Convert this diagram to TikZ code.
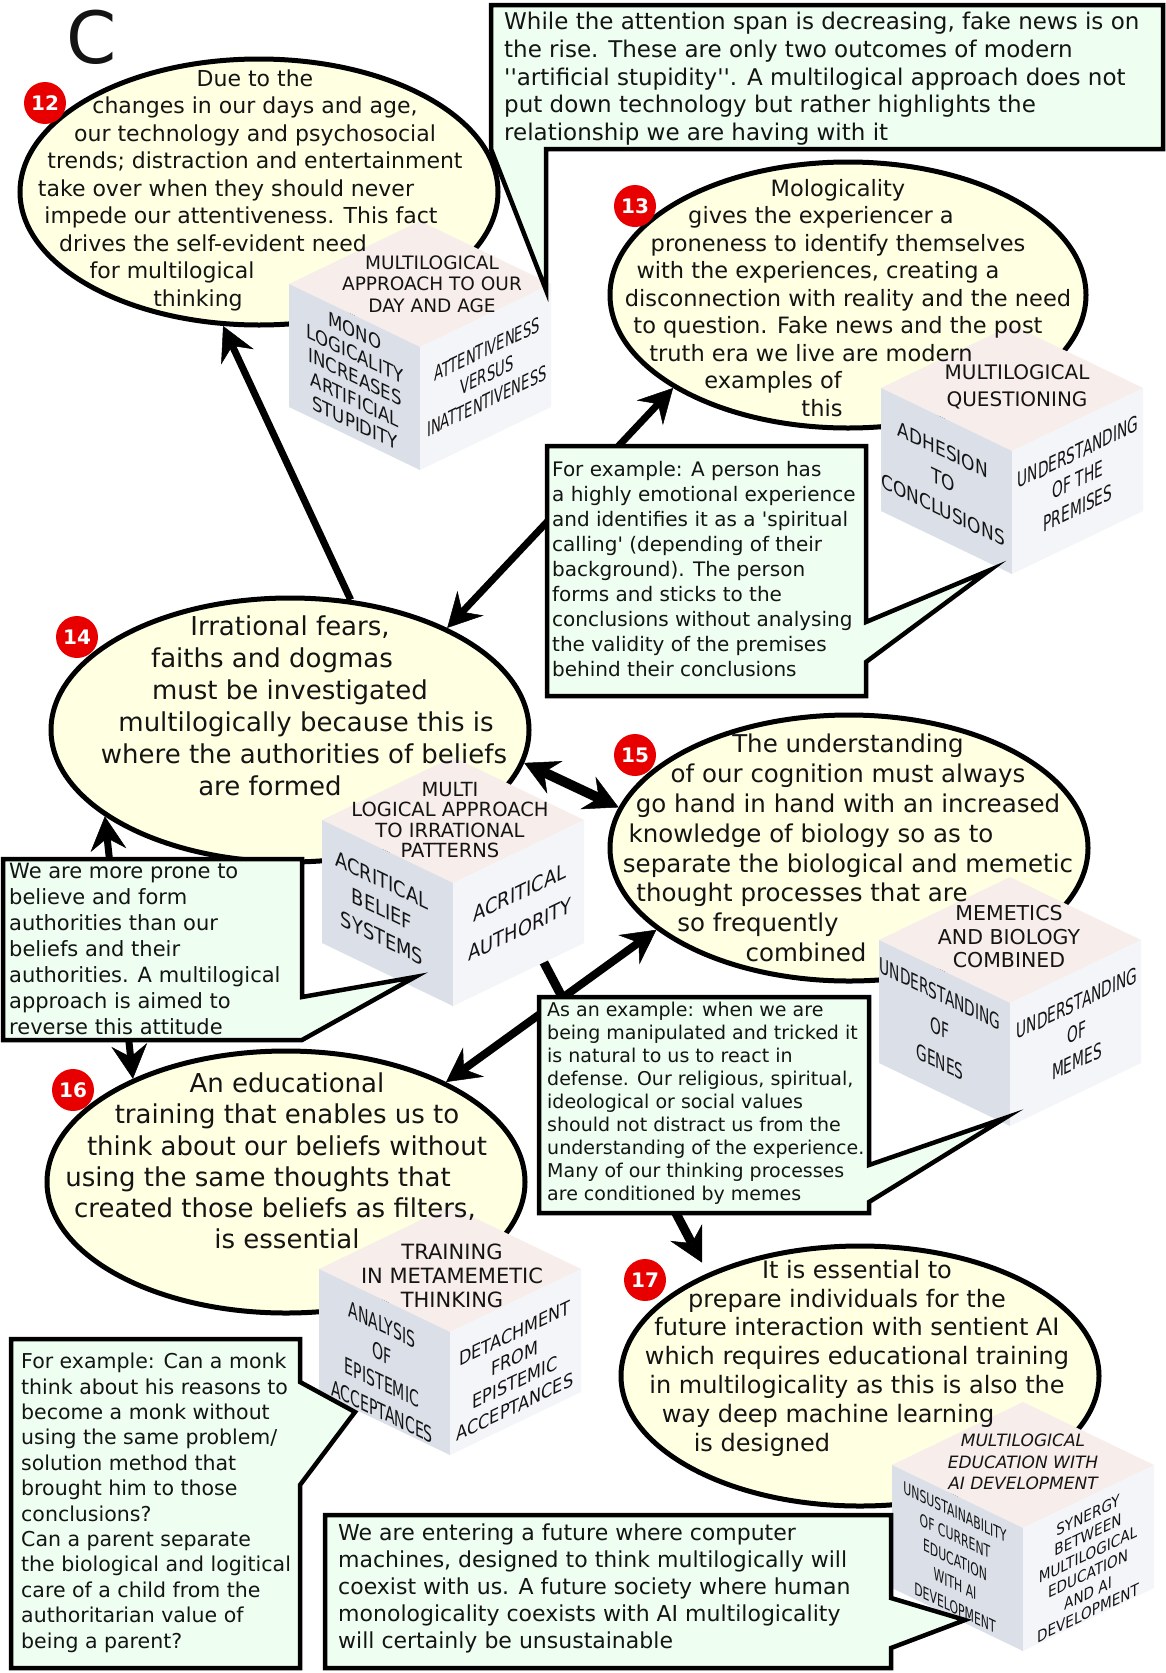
\documentclass[tikz,border=0pt]{standalone}
\usepackage{fontspec}
\setmainfont{DejaVu Sans}[Ligatures=TeXOff]
\newfontfamily\cubefont{DejaVu Sans}[FakeStretch=0.85,Ligatures=TeXOff]
\newfontfamily\cubecond{DejaVu Sans}[FakeStretch=0.64,Ligatures=TeXOff]
\usetikzlibrary{shapes.geometric,arrows.meta}
\definecolor{bubblefill}{RGB}{255,255,225}
\definecolor{calloutfill}{RGB}{238,254,241}
\definecolor{badgered}{RGB}{232,0,0}
\definecolor{txt}{RGB}{20,20,20}
\definecolor{cubetopc}{RGB}{247,237,234}
\definecolor{cubeleftc}{RGB}{218,223,232}
\definecolor{cuberightc}{RGB}{244,245,248}
\newcommand\myfs[2]{\fontsize{#1}{#2}\selectfont}
\newcommand\padR[1]{\hspace*{#1}\mbox{}}
\newcommand\padL[1]{\mbox{}\hspace*{#1}}
\newcommand\drawcube[2]{%
  \fill[cubetopc] (#1,#2) -- ++(-131,-63) -- ++(131,-63) -- ++(131,63) -- cycle;
  \fill[cubeleftc] (#1,#2) -- ++(-131,-63) -- ++(0,123) -- ++(131,63) -- cycle;
  \fill[cuberightc] (#1,#2) -- ++(131,-63) -- ++(0,123) -- ++(-131,63) -- cycle;
}
\tikzset{
  mytip/.tip={Stealth[length=34pt,width=36pt,inset=12pt,line width=0.5pt]},
  bubble/.style={ellipse, draw=black, line width=5pt, fill=bubblefill, inner sep=0pt},
  etext/.style={align=center, inner sep=0pt, text=txt},
  callout/.style={draw=black, line width=4.5pt, fill=calloutfill},
  ctext/.style={align=left, inner sep=0pt, anchor=north west, text=txt},
  facetext/.style={align=center, inner sep=0pt, text=txt},
  lface/.style={facetext, yslant=-0.48},
  rface/.style={facetext, yslant=0.48},
  badge/.style={circle, fill=badgered, text=white, font=\bfseries\myfs{20}{20}, minimum size=42pt, inner sep=0pt},
  arr/.style={line width=7pt, -mytip},
  darr/.style={line width=7pt, mytip-mytip},
}
\begin{document}
\begin{tikzpicture}[x=1pt,y=-1pt]
\useasboundingbox (0,0) rectangle (1166,1673);
\fill[white] (0,0) rectangle (1166,1673);

% ellipses
\node[bubble, minimum width=478pt, minimum height=266pt] (e12) at (259,192) {};
\node[bubble, minimum width=476pt, minimum height=266pt] (e13) at (848,295) {};
\node[bubble, minimum width=478pt, minimum height=264pt] (e14) at (290,730) {};
\node[bubble, minimum width=478pt, minimum height=266pt] (e15) at (849,848) {};
\node[bubble, minimum width=478pt, minimum height=262pt] (e16) at (286,1182) {};
\node[bubble, minimum width=478pt, minimum height=260pt] (e17) at (860,1376) {};

% connectors
\draw[arr] (e14.65) -- (e12.-105);
\draw[darr] (e14.33) -- (e13.208);
\draw[darr] (e16.146) -- (e14.205);
\draw[darr, line width=10pt] (e14.-8) -- (e15.170);
\draw[darr, line width=8pt] (e16.32) -- (e15.203);
\coordinate (c14out) at (541,957);
\draw[arr, line width=9pt, shorten >=12pt] (c14out) -- (e17.146);

% cubes
\drawcube{420}{347}
\drawcube{1012}{451}
\drawcube{453}{883}
\drawcube{1010}{1003}
\drawcube{450}{1332}
\drawcube{1023}{1528}

% callouts
\draw[callout] (491,5) -- (1163,5) -- (1163,149) -- (546,149) -- (546,290) -- (491,149) -- cycle;
\draw[callout] (547,446) -- (866,446) -- (866,622) -- (990,570) -- (866,662) -- (866,696) -- (547,696) -- cycle;
\draw[callout] (3,859) -- (302,859) -- (302,997) -- (415,977) -- (302,1040) -- (3,1040) -- cycle;
\draw[callout] (539,997) -- (869,997) -- (869,1165) -- (1005,1118) -- (869,1202) -- (869,1213) -- (539,1213) -- cycle;
\draw[callout] (11,1339) -- (300,1339) -- (300,1382) -- (355,1412) -- (300,1485) -- (300,1668) -- (11,1668) -- cycle;
\draw[callout] (325,1515) -- (891,1515) -- (891,1598) -- (965,1620) -- (891,1648) -- (891,1668) -- (325,1668) -- cycle;

% cube face texts
\node[facetext, font=\myfs{18.5}{21.5}] (c12t) at (432,284) {MULTILOGICAL\\APPROACH TO OUR\\DAY AND AGE};
\node[lface, font=\cubefont\myfs{19.5}{23}] (c12l) at (355,377) {MONO\\LOGICALITY\\INCREASES\\ARTIFICIAL\\STUPIDITY};
\node[rface, font=\cubecond\myfs{20.5}{26}] (c12r) at (487,375) {ATTENTIVENESS\\VERSUS\\INATTENTIVENESS};

\node[facetext, font=\myfs{20}{27}] (c13t) at (1017,387) {MULTILOGICAL\\QUESTIONING};
\node[lface, font=\cubefont\myfs{20}{30}] (c13l) at (943,480) {ADHESION\\TO\\CONCLUSIONS};
\node[rface, font=\cubecond\myfs{21.5}{28}] (c13r) at (1078,480) {UNDERSTANDING\\OF THE\\PREMISES};

\node[facetext, font=\myfs{19.5}{20.5}] (c14t) at (450,820) {MULTI\\LOGICAL APPROACH\\TO IRRATIONAL\\PATTERNS};
\node[lface, font=\cubefont\myfs{21}{29}] (c14l) at (382,909) {ACRITICAL\\BELIEF\\SYSTEMS};
\node[rface, font=\cubefont\myfs{21}{37}] (c14r) at (520,911) {ACRITICAL\\AUTHORITY};

\node[facetext, font=\myfs{20.5}{23.5}] (c15t) at (1009,937) {MEMETICS\\AND BIOLOGY\\COMBINED};
\node[lface, font=\cubecond\myfs{21.5}{34}] (c15l) at (940,1028) {UNDERSTANDING\\OF\\GENES};
\node[rface, font=\cubecond\myfs{21.5}{29}] (c15r) at (1077,1032) {UNDERSTANDING\\OF\\MEMES};

\node[facetext, font=\myfs{21}{24}] (c16t) at (452,1276) {TRAINING\\IN METAMEMETIC\\THINKING};
\node[lface, font=\cubecond\myfs{22}{29}] (c16l) at (382,1368) {ANALYSIS\\OF\\EPISTEMIC\\ACCEPTANCES};
\node[rface, font=\cubefont\myfs{19}{24.5}] (c16r) at (515,1370) {DETACHMENT\\FROM\\EPISTEMIC\\ACCEPTANCES};

\node[facetext, font=\itshape\myfs{17}{21.5}] (c17t) at (1023,1462) {MULTILOGICAL\\EDUCATION WITH\\AI DEVELOPMENT};
\node[lface, font=\cubecond\myfs{17}{24}] (c17l) at (955,1560) {UNSUSTAINABILITY\\OF CURRENT\\EDUCATION\\WITH AI\\DEVELOPMENT};
\node[rface, font=\cubefont\myfs{16}{19.5}] (c17r) at (1088,1564) {SYNERGY\\BETWEEN\\MULTILOGICAL\\EDUCATION\\AND AI\\DEVELOPMENT};

% ellipse texts
\node[etext, font=\myfs{22}{27.5}] (t12) at (255,190) {Due to the\\changes in our days and age,\\our technology and psychosocial\\trends; distraction and entertainment\\take over when they should never\padR{58pt}\\impede our attentiveness. This fact\padR{28pt}\\drives the self-evident need\padR{84pt}\\for multilogical\padR{166pt}\\thinking\padR{114pt}};
\node[etext, font=\myfs{22.5}{27.5}] (t13) at (838,298) {Mologicality\\gives the experiencer a\padR{34pt}\\proneness to identify themselves\\with the experiences, creating a\padR{40pt}\\\padL{20pt}disconnection with reality and the need\\to question. Fake news and the post\\truth era we live are modern\padR{54pt}\\examples of\padR{130pt}\\this\padR{32pt}};
\node[etext, font=\myfs{26}{32}] (t14) at (290,706) {Irrational fears,\\faiths and dogmas\padR{36pt}\\must be investigated\\\padL{32pt}multilogically because this is\\\padL{28pt}where the authorities of beliefs\\are formed\padR{40pt}};
\node[etext, font=\myfs{24.5}{29.9}] (t15) at (848,848) {The understanding\\of our cognition must always\\go hand in hand with an increased\\knowledge of biology so as to\padR{74pt}\\separate the biological and memetic\\thought processes that are\padR{92pt}\\so frequently\padR{180pt}\\combined\padR{84pt}};
\node[etext, font=\myfs{26}{31.2}] (t16) at (287,1161) {An educational\\training that enables us to\\think about our beliefs without\\using the same thoughts that\padR{58pt}\\created those beliefs as filters,\padR{24pt}\\is essential};
\node[etext, font=\myfs{24}{28.8}] (t17) at (857,1358) {It is essential to\\prepare individuals for the\padR{20pt}\\future interaction with sentient AI\\which requires educational training\\in multilogicality as this is also the\\way deep machine learning\padR{58pt}\\is designed\padR{190pt}};

% callout texts
\node[ctext, font=\myfs{23}{27.7}] (tB) at (504,12) {While the attention span is decreasing, fake news is on\\the rise. These are only two outcomes of modern\\''artificial stupidity''. A multilogical approach does not\\put down technology but rather highlights the\\relationship we are having with it};
\node[ctext, font=\myfs{20}{25}] (tF) at (552,461) {For example: A person has\\a highly emotional experience\\and identifies it as a 'spiritual\\calling' (depending of their\\background). The person\\forms and sticks to the\\conclusions without analysing\\the validity of the premises\\behind their conclusions};
\node[ctext, font=\myfs{21}{26}] (tH) at (9,863) {We are more prone to\\believe and form\\authorities than our\\beliefs and their\\authorities. A multilogical\\approach is aimed to\\reverse this attitude};
\node[ctext, font=\myfs{19}{23}] (tK) at (547,1002) {As an example: when we are\\being manipulated and tricked it\\is natural to us to react in\\defense. Our religious, spiritual,\\ideological or social values\\should not distract us from the\\understanding of the experience.\\Many of our thinking processes\\are conditioned by memes};
\node[ctext, font=\myfs{20.5}{25.4}] (tM) at (21,1353) {For example: Can a monk\\think about his reasons to\\become a monk without\\using the same problem/\\solution method that\\brought him to those\\conclusions?\\Can a parent separate\\the biological and logitical\\care of a child from the\\authoritarian value of\\being a parent?};
\node[ctext, font=\myfs{22}{27}] (tO) at (338,1524) {We are entering a future where computer\\machines, designed to think multilogically will\\coexist with us. A future society where human\\monologicality coexists with AI multilogicality\\will certainly be unsustainable};

% badges and label
\node[inner sep=0pt, font=\myfs{72}{72}, text=txt] (lblC) at (92,37) {C};
\node[badge] (b12) at (45,103) {12};
\node[badge] (b13) at (635,206) {13};
\node[badge] (b14) at (77,637) {14};
\node[badge] (b15) at (635,755) {15};
\node[badge] (b16) at (73,1090) {16};
\node[badge] (b17) at (645,1280) {17};
\end{tikzpicture}
\end{document}
